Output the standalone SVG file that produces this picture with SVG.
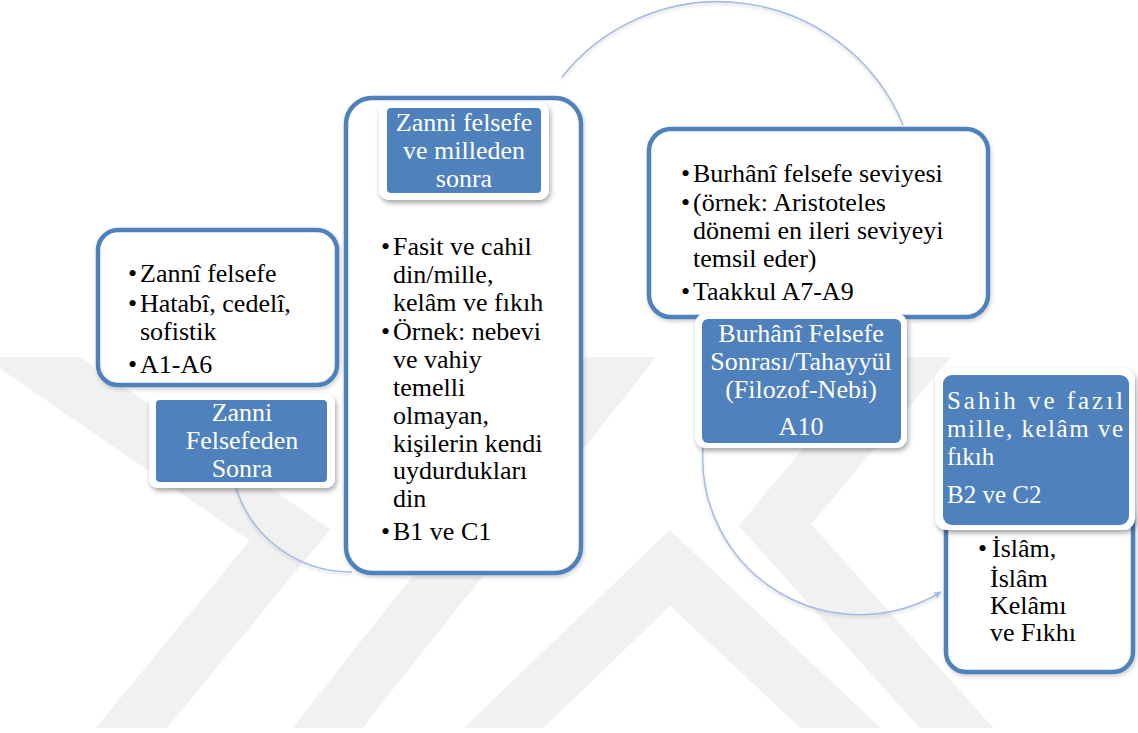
<svg xmlns="http://www.w3.org/2000/svg" width="1138" height="733" viewBox="0 0 1138 733">
  <defs>
    <style>
      .box { fill: #ffffff; stroke: #4f81bd; stroke-width: 4.5; }
      .frame { fill: #ffffff; }
      .tag { fill: #4f81bd; }
      text { font-family: "Liberation Serif", "Times New Roman", Times, "Noto Serif", "DejaVu Serif", serif; font-size: 26px; }
      .body { fill: #000000; }
      .head { fill: #ffffff; }
      .small { font-size: 25px; }
      .mid { text-anchor: middle; }
      .arc { fill: none; stroke: #a7bcdf; stroke-width: 1.6; }
      .mark { fill: none; stroke: #f1f1f1; stroke-width: 55; stroke-linejoin: miter; }
    </style>
    <filter id="tagShadow" x="-20%" y="-20%" width="140%" height="150%">
      <feDropShadow dx="1.5" dy="3" stdDeviation="2.5" flood-color="#000000" flood-opacity="0.35"/>
    </filter>
    <filter id="boxShadow" x="-10%" y="-10%" width="120%" height="120%">
      <feDropShadow dx="1" dy="2" stdDeviation="2" flood-color="#000000" flood-opacity="0.2"/>
    </filter>
    <filter id="arcShadow" x="-10%" y="-10%" width="120%" height="120%">
      <feDropShadow dx="0" dy="2" stdDeviation="1.5" flood-color="#000000" flood-opacity="0.15"/>
    </filter>
    <clipPath id="markClip">
      <rect x="0" y="357" width="1138" height="371"/>
    </clipPath>
    <marker id="tip" viewBox="0 0 10 10" refX="8" refY="5" markerWidth="5" markerHeight="5" orient="auto">
      <path d="M0,1 L9,5 L0,9 z" fill="#a7bcdf"/>
    </marker>
  </defs>

  <rect width="1138" height="733" fill="#ffffff"/>

  <!-- background emblem -->
  <g id="emblem" clip-path="url(#markClip)">
    <polyline class="mark" points="0,335 290,535 105,760"/>
    <polyline class="mark" points="640,333 310,750"/>
    <polyline class="mark" points="465,765 670,568 880,765"/>
    <polyline class="mark" points="935,333 775,525 985,760"/>
  </g>

  <!-- connectors -->
  <g id="connectors" filter="url(#arcShadow)">
    <path class="arc" d="M 236 488 A 120 120 0 0 0 352 572"/>
    <path class="arc" d="M 562 77 A 200 200 0 0 1 903 125"/>
    <path class="arc" d="M 703 447 A 157 157 0 0 0 941 592" marker-end="url(#tip)"/>
  </g>

  <!-- step 1 -->
  <g id="step1">
    <rect class="box" x="98" y="230" width="239" height="155" rx="20" filter="url(#boxShadow)"/>
    <text class="body" x="128" y="282">•</text>
    <text class="body" x="140" y="282">Zannî felsefe</text>
    <text class="body" x="128" y="312">•</text>
    <text class="body" x="140" y="312">Hatabî, cedelî,</text>
    <text class="body" x="140" y="340">sofistik</text>
    <text class="body" x="128" y="373">•</text>
    <text class="body" x="140" y="373">A1-A6</text>
  </g>
  <g id="label1">
    <rect class="frame" x="149" y="394" width="186" height="94" rx="9" filter="url(#tagShadow)"/>
    <rect class="tag" x="156" y="400" width="171" height="82" rx="4"/>
    <text class="head mid" x="242" y="421">Zanni</text>
    <text class="head mid" x="242" y="449">Felsefeden</text>
    <text class="head mid" x="242" y="477">Sonra</text>
  </g>

  <!-- step 2 -->
  <g id="step2">
    <rect class="box" x="346" y="98" width="235" height="475" rx="26" filter="url(#boxShadow)"/>
    <text class="body" x="381" y="255">•</text>
    <text class="body" x="393" y="255">Fasit ve cahil</text>
    <text class="body" x="393" y="283">din/mille,</text>
    <text class="body" x="393" y="311">kelâm ve fıkıh</text>
    <text class="body" x="381" y="340">•</text>
    <text class="body" x="393" y="340">Örnek: nebevi</text>
    <text class="body" x="393" y="368">ve vahiy</text>
    <text class="body" x="393" y="396">temelli</text>
    <text class="body" x="393" y="424">olmayan,</text>
    <text class="body" x="393" y="452">kişilerin kendi</text>
    <text class="body" x="393" y="479">uydurdukları</text>
    <text class="body" x="393" y="507">din</text>
    <text class="body" x="381" y="540">•</text>
    <text class="body" x="393" y="540">B1 ve C1</text>
  </g>
  <g id="label2">
    <rect class="frame" x="379" y="102" width="170" height="98" rx="10" filter="url(#tagShadow)"/>
    <rect class="tag" x="387" y="108" width="154" height="85" rx="4"/>
    <text class="head mid" x="464" y="131">Zanni felsefe</text>
    <text class="head mid" x="464" y="159">ve milleden</text>
    <text class="head mid" x="464" y="187">sonra</text>
  </g>

  <!-- step 3 -->
  <g id="step3">
    <rect class="box" x="649" y="129" width="339" height="188" rx="22" filter="url(#boxShadow)"/>
    <text class="body" x="681" y="182">•</text>
    <text class="body" x="693" y="182">Burhânî felsefe seviyesi</text>
    <text class="body" x="681" y="211">•</text>
    <text class="body" x="693" y="211">(örnek: Aristoteles</text>
    <text class="body" x="693" y="239">dönemi en ileri seviyeyi</text>
    <text class="body" x="693" y="267">temsil eder)</text>
    <text class="body" x="681" y="300">•</text>
    <text class="body" x="693" y="300">Taakkul A7-A9</text>
  </g>
  <g id="label3">
    <rect class="frame" x="695" y="313" width="212" height="135" rx="11" filter="url(#tagShadow)"/>
    <rect class="tag" x="702" y="319" width="199" height="124" rx="6"/>
    <text class="head mid" x="801" y="342">Burhânî Felsefe</text>
    <text class="head mid" x="801" y="370">Sonrası/Tahayyül</text>
    <text class="head mid" x="801" y="398">(Filozof-Nebi)</text>
    <text class="head mid" x="801" y="435">A10</text>
  </g>

  <!-- step 4 -->
  <g id="step4">
    <rect class="box" x="946" y="500" width="187" height="172" rx="20" filter="url(#boxShadow)"/>
    <text class="body" x="978" y="557">•</text>
    <text class="body" x="992" y="557">İslâm,</text>
    <text class="body" x="990" y="587">İslâm</text>
    <text class="body" x="990" y="614">Kelâmı</text>
    <text class="body" x="990" y="641">ve Fıkhı</text>
  </g>
  <g id="label4">
    <rect class="frame" x="935" y="368" width="200" height="162" rx="12" filter="url(#tagShadow)"/>
    <rect class="tag" x="943" y="375" width="186" height="150" rx="9"/>
    <!-- justified lines stretched to the tag width -->
    <text class="head small" x="947" y="409" textLength="176" lengthAdjust="spacing">Sahih ve fazıl</text>
    <text class="head small" x="947" y="437" textLength="176" lengthAdjust="spacing">mille, kelâm ve</text>
    <text class="head small" x="947" y="465">fıkıh</text>
    <text class="head small" x="947" y="503">B2 ve C2</text>
  </g>
</svg>
